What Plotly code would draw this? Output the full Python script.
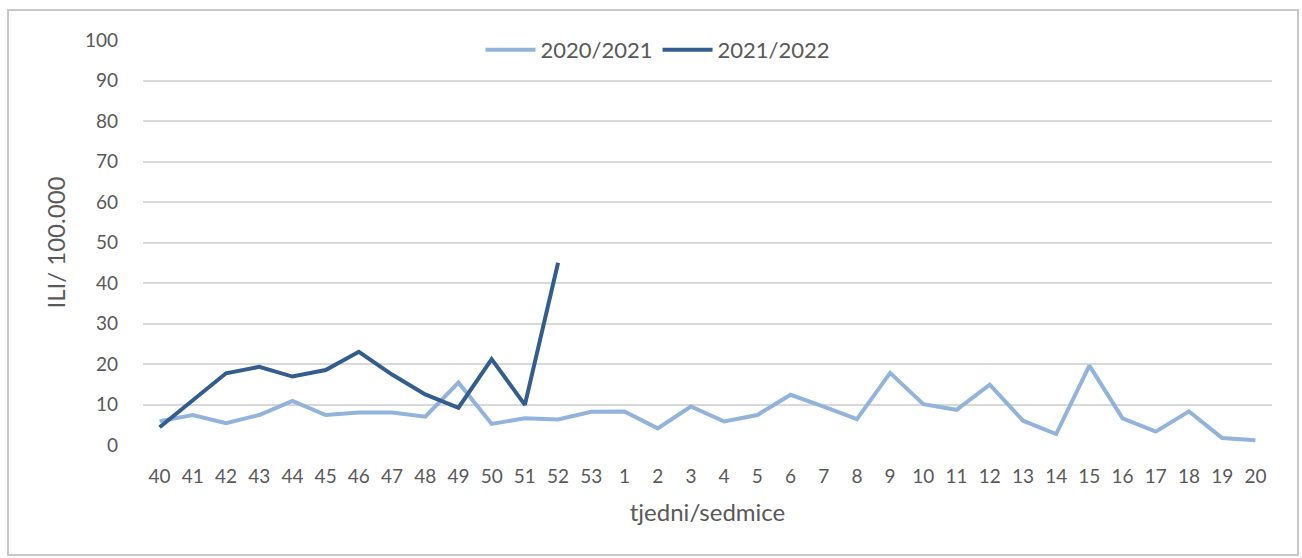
import plotly.graph_objects as go

weeks = ["40", "41", "42", "43", "44", "45", "46", "47", "48", "49", "50", "51", "52", "53",
         "1", "2", "3", "4", "5", "6", "7", "8", "9", "10", "11", "12", "13", "14", "15",
         "16", "17", "18", "19", "20"]
season_2020_2021 = [5.9, 7.4, 5.4, 7.4, 10.9, 7.4, 8.0, 8.0, 7.0, 15.4, 5.2, 6.6, 6.3, 8.2,
                    8.3, 4.1, 9.5, 5.8, 7.4, 12.4, 9.5, 6.4, 17.8, 10.1, 8.7, 14.9, 6.0, 2.7,
                    19.6, 6.6, 3.3, 8.3, 1.7, 1.2]
season_2021_2022 = [4.4, 11.0, 17.7, 19.3, 16.9, 18.5, 23.0, 17.4, 12.5, 9.2, 21.2, 9.9, 45.0]
y_ticks = [0, 10, 20, 30, 40, 50, 60, 70, 80, 90, 100]

W, H = 1302, 558
L, R, T, B = 143, 1272, 40, 445

font = dict(family="Lato, Noto Sans, sans-serif", size=19, color="#595959")

fig = go.Figure()
fig.add_trace(go.Scatter(x=weeks, y=season_2020_2021, mode="lines", name="2020/2021",
                         line=dict(color="#92B3DB", width=4)))
fig.add_trace(go.Scatter(x=weeks[:len(season_2021_2022)], y=season_2021_2022, mode="lines",
                         name="2021/2022", line=dict(color="#335D8F", width=4)))

def px_x(p):
    return (p - L) / (R - L)

def px_y(p):
    return (B - p) / (B - T)

fig.add_shape(type="rect", xref="paper", yref="paper",
              x0=px_x(8), x1=px_x(1298), y0=px_y(555), y1=px_y(10),
              line=dict(color="#C8C8C8", width=2), layer="below")

fig.update_layout(
    width=W, height=H,
    margin=dict(l=L, r=W - R, t=T, b=H - B, pad=0),
    paper_bgcolor="white", plot_bgcolor="white",
    font=font,
    showlegend=True,
    legend=dict(orientation="h", x=px_x(658), xanchor="center", y=px_y(50), yanchor="middle",
                bgcolor="rgba(0,0,0,0)", font=dict(size=22, color="#595959"),
                itemwidth=50, tracegroupgap=0),
    xaxis=dict(type="category", showgrid=False, zeroline=False, showline=False,
               ticks="", tickfont=dict(size=19), ticklabelstandoff=18,
               range=[-0.5, len(weeks) - 0.5],
               title=dict(text="tjedni/sedmice", font=dict(size=24), standoff=18)),
    yaxis=dict(range=[0, 100], tickvals=y_ticks, showgrid=True, gridcolor="#D9D9D9",
               gridwidth=2, zeroline=False, showline=False, ticks="",
               tickfont=dict(size=19), ticklabelstandoff=24,
               title=dict(text="ILI/ 100.000", font=dict(size=24), standoff=12)),
)

fig.write_html("out.html", config={"displayModeBar": False},
               post_script="document.body.style.margin='0';document.body.style.overflow='hidden';")
